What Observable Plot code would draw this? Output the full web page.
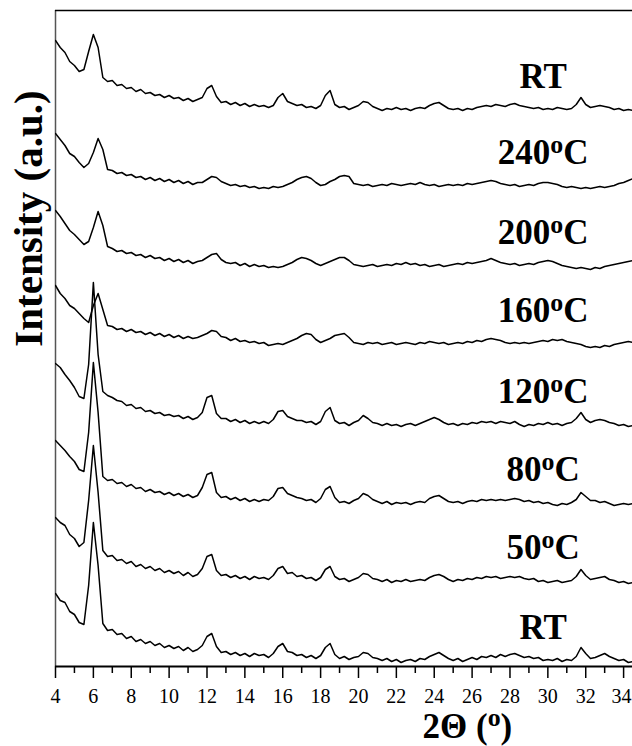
<!DOCTYPE html>
<html>
<head>
<meta charset="utf-8">
<script src="https://cdn.jsdelivr.net/npm/d3@7"></script>
<script src="https://cdn.jsdelivr.net/npm/@observablehq/plot@0.6"></script>
<style>
  html, body { margin: 0; padding: 0; background: #fff; }
  #chart { width: 632px; height: 746px; }
</style>
</head>
<body>
<div id="chart"></div>
<script>
// 2θ sampling grid (degrees), 4.00 … 34.50 every 0.25°
const twoTheta = d3.range(0, 123).map(i => 4 + i * 0.25);

// Curve labels (top to bottom) and vertical stacking offsets (a.u.)
const labels  = ["RT", "240ºC", "200ºC", "160ºC", "120ºC", "80ºC", "50ºC", "RT"];
const offsets = [557, 481, 401, 323, 242, 164, 86, 6];

// Intensities (a.u.), one row per 2°
const rtAfter = [
  69,62,57,48,44,38,40,58,
  75,62,32,28,29,24,25,21,
  22,18,20,16,17,14,15,12,
  14,11,12,9,11,8,10,12,
  21,24,13,7,8,5,7,4,
  6,3,5,3,4,2,4,12,
  16,8,6,4,5,2,3,1,
  4,14,19,5,2,3,0,2,
  4,8,7,3,1,-1,1,0,
  2,0,1,-1,1,2,1,4,
  6,7,4,1,0,1,-1,1,
  0,2,3,4,3,5,4,3,
  5,6,4,3,2,1,2,0,
  1,0,2,1,0,1,5,12,
  5,2,3,4,3,2,0,1,
  -1,0,-1
];
const t240 = [
  52,46,40,32,29,23,18,22,
  33,47,36,16,15,12,13,10,
  11,8,9,6,8,5,7,4,
  6,3,5,2,4,1,3,3,
  6,9,8,4,2,0,1,-1,
  0,-2,-1,-3,-2,-3,-1,-2,
  -1,1,3,6,8,9,7,3,
  0,1,4,6,9,10,9,2,
  1,0,1,-1,0,1,0,2,
  1,0,1,2,1,3,1,0,
  1,-1,0,1,0,1,0,2,
  1,2,3,4,5,4,2,1,
  0,1,-1,0,1,0,2,3,
  3,2,1,-1,-2,-1,-2,-3,
  -2,-3,-2,-1,-2,-1,0,2,
  3,5,7
];
const t200 = [
  55,49,42,35,31,26,21,24,
  38,54,40,19,17,14,15,12,
  13,10,11,8,10,7,8,5,
  7,4,6,3,5,2,4,5,
  8,11,12,6,3,2,3,0,
  2,-1,1,-1,0,-2,-1,-2,
  -1,1,3,6,8,7,5,2,
  0,2,4,6,8,8,5,1,
  0,-1,0,1,-1,0,1,0,
  2,1,3,1,2,0,1,-1,
  0,1,-1,0,1,2,1,3,
  2,3,4,5,7,5,3,2,
  1,2,0,1,2,1,3,4,
  5,4,2,0,-1,-2,-3,-2,
  -3,-4,-2,-3,-1,0,1,2,
  3,4,5
];
const t160 = [
  58,50,45,38,35,30,25,21,
  38,50,34,18,17,14,15,12,
  14,11,12,9,11,8,10,7,
  9,6,8,5,7,5,6,8,
  10,13,12,7,6,3,5,2,
  3,1,2,0,1,-2,-1,0,
  -1,1,3,5,8,10,9,4,
  1,3,5,8,9,10,6,1,
  0,-1,1,0,1,-1,0,1,
  -1,0,1,0,-1,1,0,2,
  1,0,1,-1,0,1,0,2,
  1,3,2,4,5,4,3,1,
  0,1,0,1,0,1,2,3,
  2,4,3,4,2,1,0,-1,
  -3,-4,-3,-4,-2,-3,-1,0,
  1,2,1
];
const t120 = [
  61,57,50,44,37,28,26,60,
  142,70,33,29,27,24,23,19,
  20,16,17,13,14,11,12,9,
  10,8,9,6,8,5,7,12,
  27,29,11,6,6,3,5,2,
  4,1,3,1,3,1,5,13,
  14,8,6,4,4,2,3,0,
  3,13,17,4,1,2,-1,2,
  4,9,6,2,1,-1,1,-1,
  0,-2,0,1,-1,1,3,5,
  7,5,2,0,1,-1,1,0,
  2,1,3,2,3,1,3,2,
  1,3,0,-2,0,-1,1,0,
  2,0,1,-1,1,2,6,12,
  5,2,4,5,4,2,1,-1,
  0,-2,-1
];
const t80 = [
  62,57,52,46,41,33,31,70,
  140,90,26,22,23,19,20,16,
  18,14,15,11,13,10,11,8,
  10,7,9,6,8,5,7,15,
  28,30,10,5,6,3,5,2,
  4,1,3,1,3,2,6,14,
  15,9,7,5,4,2,3,0,
  4,13,16,5,0,1,-1,2,
  4,9,7,3,1,-1,1,-2,
  0,-1,0,-2,0,1,0,4,
  6,7,4,1,0,1,-1,1,
  2,1,3,2,3,2,3,2,
  3,4,3,1,2,0,1,-1,
  0,-2,-3,-1,-2,0,3,10,
  6,2,2,0,1,-1,-3,-2,
  -1,-2,-1
];
const t50 = [
  63,58,55,46,42,34,38,80,
  135,88,30,24,25,20,21,17,
  19,14,16,12,14,10,12,8,
  10,7,9,5,8,4,6,12,
  24,26,10,5,6,3,5,2,
  4,1,4,2,3,1,5,12,
  14,7,8,4,5,2,3,0,
  3,11,14,4,1,2,-1,1,
  3,7,6,2,1,-1,1,-2,
  0,-1,1,-1,0,1,0,3,
  5,6,4,1,-1,1,0,2,
  1,3,2,4,3,4,2,3,
  4,3,4,2,1,2,-1,0,
  -2,-1,0,-2,-1,0,4,11,
  5,1,2,3,4,1,0,-2,
  -1,-3,-2
];
const rtBefore = [
  67,60,58,49,46,38,36,75,
  138,95,37,30,31,26,27,22,
  24,19,21,17,19,15,17,13,
  15,12,14,10,13,9,11,15,
  24,27,14,8,9,6,8,5,
  7,4,7,5,6,3,7,14,
  17,9,8,5,6,3,5,2,
  5,13,17,6,2,4,1,3,
  4,8,7,3,2,0,2,-1,
  1,-2,0,1,-1,2,1,4,
  6,8,5,2,0,2,-1,1,
  3,1,4,3,5,3,6,4,
  6,7,5,3,4,2,3,0,
  1,0,2,-1,1,0,4,13,
  7,2,3,5,7,4,2,0,
  1,-2,-1
];
const intensities = [rtAfter, t240, t200, t160, t120, t80, t50, rtBefore];

// x-axis ticks
const majorTicks = d3.range(4, 35, 2);
const minorTicks = d3.range(5, 35, 2);

intensities.forEach((a, i) => {
  if (a.length !== twoTheta.length) throw new Error(`series ${i} has ${a.length} values, expected ${twoTheta.length}`);
});

const rows = [];
intensities.forEach((vals, k) => {
  vals.forEach((v, i) => rows.push({k, t: twoTheta[i], v: v + offsets[k]}));
});
const labelRows = labels.map((text, k) => ({text, y: offsets[k] + 33}));

const serif = "'Liberation Serif', 'Times New Roman', serif";

const plot = Plot.plot({
  width: 632,
  height: 746,
  marginLeft: 55,
  marginRight: 0,
  marginTop: 10,
  marginBottom: 80,
  style: {background: "white", color: "black", fontFamily: serif},
  x: {domain: [4, 34.47], label: null},
  y: {domain: [0, 656], axis: null, label: null},
  marks: [
    Plot.ruleX([4], {stroke: "#555", strokeWidth: 1.5}),
    Plot.ruleY([656], {stroke: "black", strokeWidth: 1.5}),
    Plot.line(rows, {x: "t", y: "v", z: "k", stroke: "black", strokeWidth: 1.5, strokeLinejoin: "round", clip: true}),
    Plot.text(labelRows, {x: () => 29.75, y: "y", text: "text", fontSize: 35, fontWeight: "bold", fontFamily: serif, textAnchor: "middle", fill: "black"}),
    Plot.axisX(majorTicks, {label: null, tickSize: 12, tickPadding: 10, fontSize: 20, fontFamily: serif, strokeWidth: 1.5}),
    Plot.axisX(minorTicks, {label: null, tickSize: 7, tickFormat: () => "", strokeWidth: 1.5}),
    Plot.ruleY([0], {stroke: "black", strokeWidth: 2}),
    Plot.text(["2Θ (º)"], {x: () => 25.75, frameAnchor: "bottom", lineAnchor: "bottom", textAnchor: "middle", dy: 71, text: d => d, fontSize: 35, fontWeight: "bold", fontFamily: serif, fill: "black"}),
    Plot.text(["Intensity (a.u.)"], {frameAnchor: "left", y: () => 448, dx: -27, rotate: -90, textAnchor: "middle", lineAnchor: "middle", text: d => d, fontSize: 41, fontWeight: "bold", fontFamily: serif, fill: "black"})
  ]
});

// render "º" as a raised small o
const NS = "http://www.w3.org/2000/svg";
plot.querySelectorAll("text").forEach(t => {
  const s = t.textContent;
  if (s === "34") { t.setAttribute("dx", "-2"); return; } // keep the last tick label inside the picture
  if (!s.includes("º")) return;
  const holder = t.closest("[font-size]");
  const fs = parseFloat(holder ? holder.getAttribute("font-size") : 20);
  const [a, b] = s.split("º");
  t.textContent = "";
  const t1 = document.createElementNS(NS, "tspan"); t1.textContent = a;
  const t2 = document.createElementNS(NS, "tspan"); t2.textContent = "o";
  t2.setAttribute("font-size", (fs * 0.74).toFixed(1));
  t2.setAttribute("dy", (-fs * 0.32).toFixed(1));
  const t3 = document.createElementNS(NS, "tspan"); t3.textContent = b;
  t3.setAttribute("dy", (fs * 0.32).toFixed(1));
  t.append(t1, t2, t3);
});

document.getElementById("chart").append(plot);
</script>
</body>
</html>
